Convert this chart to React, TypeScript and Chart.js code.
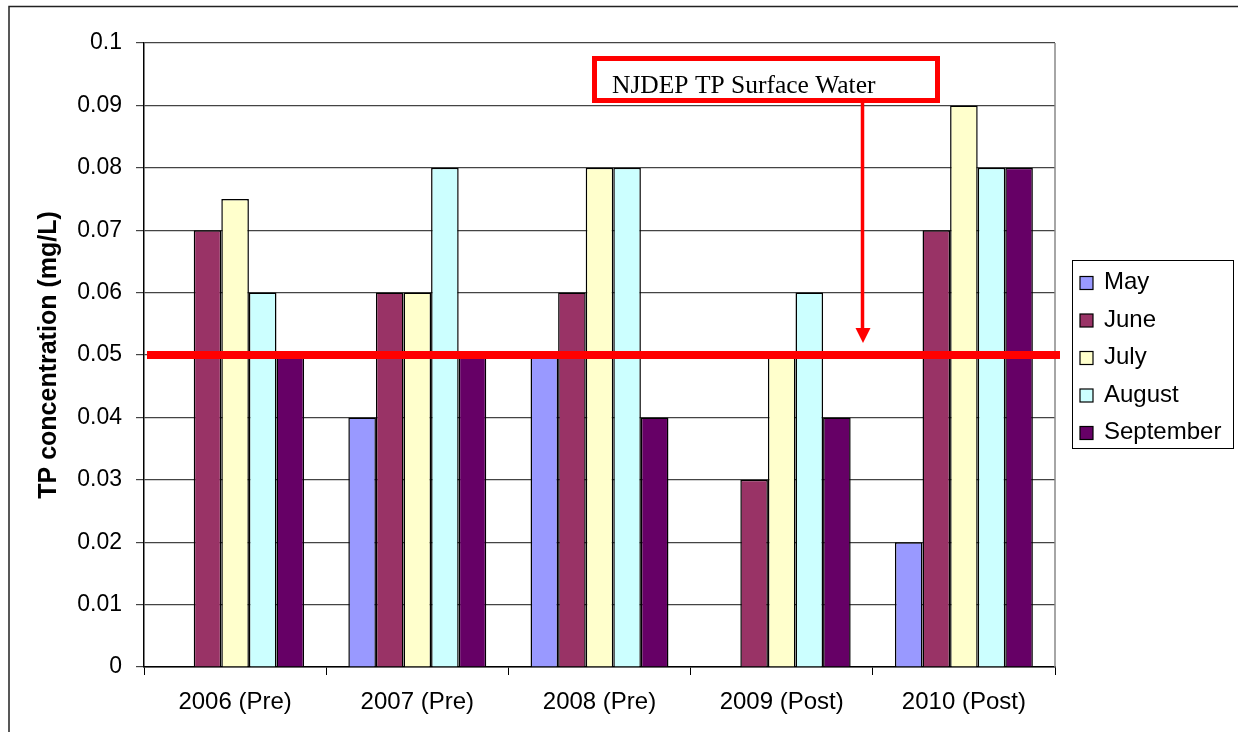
import React, { useEffect, useRef } from 'react';
import { Chart, registerables } from 'chart.js';

Chart.register(...registerables);

const categories = ['2006 (Pre)', '2007 (Pre)', '2008 (Pre)', '2009 (Post)', '2010 (Post)'];
const seriesNames = ['May', 'June', 'July', 'August', 'September'];
const may = [null, 0.04, 0.05, null, 0.02];
const june = [0.07, 0.06, 0.06, 0.03, 0.07];
const july = [0.075, 0.06, 0.08, 0.05, 0.09];
const august = [0.06, 0.08, 0.08, 0.06, 0.08];
const september = [0.05, 0.05, 0.04, 0.04, 0.08];
const seriesColors = ['#9999FF', '#993366', '#FFFFCC', '#CCFFFF', '#660066'];
const threshold = 0.05;
const annotationText = 'NJDEP TP Surface Water';
const yTitle = 'TP concentration (mg/L)';

const SANS = '"Liberation Sans", Arial, sans-serif';
const SERIF = '"Liberation Serif", "Times New Roman", serif';

const decor = {
  id: 'decor',
  beforeDraw(chart: any) {
    const { ctx, width, height } = chart;
    ctx.save();
    ctx.fillStyle = '#fff';
    ctx.fillRect(0, 0, width, height);
    ctx.restore();
  },
  beforeDatasetsDraw(chart: any) {
    const { ctx, chartArea } = chart;
    ctx.save();
    ctx.strokeStyle = '#888';
    ctx.lineWidth = 1.5;
    ctx.beginPath();
    ctx.moveTo(chartArea.right, chartArea.top);
    ctx.lineTo(chartArea.right, chartArea.bottom);
    ctx.stroke();
    ctx.restore();
  },
  afterDatasetsDraw(chart: any) {
    const { ctx, chartArea, scales } = chart;
    const y = scales.y.getPixelForValue(threshold);
    ctx.save();
    // threshold line
    ctx.fillStyle = '#FF0000';
    ctx.fillRect(chartArea.left + 3, y - 4, chartArea.right + 5 - (chartArea.left + 3), 8);
    // arrow
    ctx.strokeStyle = '#FF0000';
    ctx.lineWidth = 3.5;
    ctx.beginPath();
    ctx.moveTo(862.5, 103);
    ctx.lineTo(862.5, 330);
    ctx.stroke();
    ctx.beginPath();
    ctx.moveTo(855.5, 328);
    ctx.lineTo(870.5, 328);
    ctx.lineTo(863, 343);
    ctx.closePath();
    ctx.fill();
    // annotation box
    ctx.fillStyle = '#fff';
    ctx.fillRect(594.5, 58.5, 343, 42);
    ctx.lineWidth = 5;
    ctx.strokeRect(594.5, 58.5, 343, 42);
    ctx.fillStyle = '#000';
    ctx.font = `25.5px ${SERIF}`;
    ctx.textAlign = 'left';
    ctx.textBaseline = 'alphabetic';
    ctx.fillText(annotationText, 612, 92.5);
    ctx.restore();
  },
  afterDraw(chart: any) {
    const { ctx } = chart;
    ctx.save();
    // legend
    ctx.strokeStyle = '#000';
    ctx.lineWidth = 1;
    ctx.strokeRect(1072.5, 260.5, 161, 188);
    ctx.font = `24px ${SANS}`;
    ctx.textAlign = 'left';
    ctx.textBaseline = 'alphabetic';
    chart.data.datasets.forEach((ds: any, i: number) => {
      const cy = 283 + i * 37.5;
      ctx.fillStyle = ds.backgroundColor;
      ctx.fillRect(1080, cy - 6.5, 13, 13);
      ctx.strokeStyle = '#000';
      ctx.lineWidth = 1.2;
      ctx.strokeRect(1080, cy - 6.5, 13, 13);
      ctx.fillStyle = '#000';
      ctx.fillText(ds.label, 1104, cy + 6);
    });
    // outer border
    ctx.strokeStyle = '#222';
    ctx.lineWidth = 1.5;
    ctx.beginPath();
    ctx.moveTo(1238, 6.5);
    ctx.lineTo(9, 6.5);
    ctx.lineTo(9, 732);
    ctx.stroke();
    ctx.restore();
  },
};

export default function App() {
  const ref = useRef<HTMLCanvasElement>(null);
  useEffect(() => {
    const canvas = ref.current;
    if (!canvas) return;
    const values = [may, june, july, august, september];
    const chart = new Chart(canvas, {
      type: 'bar',
      data: {
        labels: categories,
        datasets: seriesNames.map((name, i) => ({
          label: name,
          data: values[i] as any,
          backgroundColor: seriesColors[i],
          borderColor: '#000',
          borderWidth: 1.5,
          categoryPercentage: 0.757,
          barPercentage: 1,
        })),
      },
      options: {
        responsive: false,
        animation: false,
        devicePixelRatio: 1,
        layout: { padding: { left: 0, top: 43, right: 183, bottom: 0 } },
        plugins: {
          legend: { display: false },
          tooltip: { enabled: false },
        },
        scales: {
          x: {
            grid: { drawOnChartArea: false, drawTicks: true, tickLength: 8, color: '#000', offset: true },
            border: { color: '#000', width: 1.5 },
            ticks: { color: '#000', font: { size: 24, family: SANS }, padding: 13, maxRotation: 0 },
            afterFit: (s: any) => { s.height = 65; },
          },
          y: {
            min: 0,
            max: 0.1,
            ticks: {
              stepSize: 0.01,
              color: '#000',
              font: { size: 23, family: SANS },
              padding: 14,
              callback: (v: any) => String(Number(Number(v).toFixed(2))),
            },
            grid: { color: '#444', tickLength: 8, lineWidth: 1.2 },
            border: { color: '#000', width: 1.5 },
            title: {
              display: true,
              text: yTitle,
              color: '#000',
              font: { size: 25, weight: 'bold', family: SANS },
              padding: { top: 34, bottom: 0 },
            },
            afterFit: (s: any) => { s.width = 144; },
          },
        },
      },
      plugins: [decor],
    });
    return () => chart.destroy();
  }, []);
  return (
    <div style={{ position: 'fixed', left: 0, top: 0, width: 1238, height: 732, background: '#fff' }}>
      <canvas ref={ref} width={1238} height={732} style={{ display: 'block' }} />
    </div>
  );
}
